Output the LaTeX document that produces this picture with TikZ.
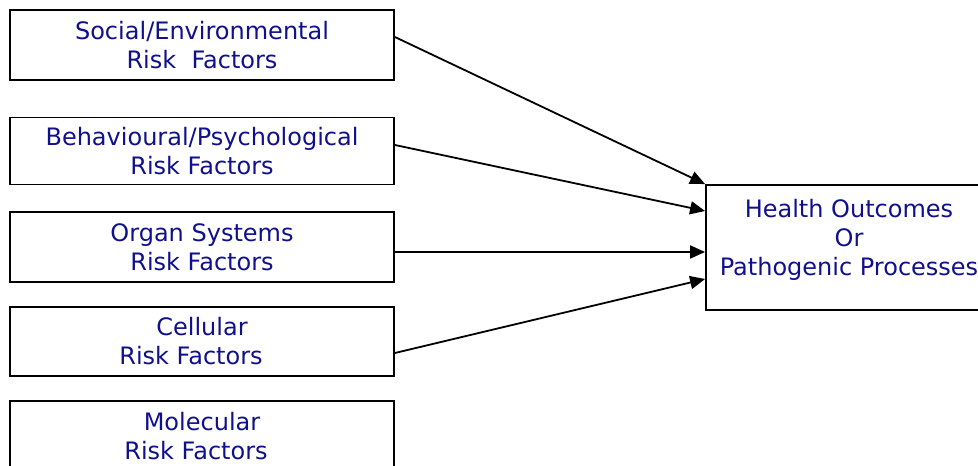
\documentclass[tikz,border=0pt]{standalone}
\usepackage{fontspec}
\setmainfont{DejaVu Sans}
\usetikzlibrary{arrows.meta,calc}
\definecolor{navytext}{RGB}{16,16,140}
\begin{document}
\begin{tikzpicture}[x=1pt,y=1pt,
  riskbox/.style={draw=black, line width=1.8pt, minimum width=384pt, inner sep=0pt, align=center,
    text=navytext, font=\fontsize{24}{29}\selectfont},
  outbox/.style={draw=black, line width=1.8pt, minimum width=286pt, minimum height=125pt, inner sep=0pt},
  boxtext/.style={align=center, text=navytext, inner sep=0pt, font=\fontsize{24}{29}\selectfont},
  conn/.style={line width=1.8pt, -{Triangle[length=15pt,width=13pt]}}]
\useasboundingbox (0,0) rectangle (978,466);
\node[riskbox, minimum height=70pt] (b1) at (202,421) {Social/Environmental\\Risk~\ Factors};
\node[riskbox, minimum height=67pt] (b2) at (202,315) {Behavioural/Psychological\\Risk Factors};
\node[riskbox, minimum height=70pt] (b3) at (202,219) {Organ Systems\\Risk Factors};
\node[riskbox, minimum height=69pt] (b4) at (202,124.5) {Cellular\\Risk Factors\hspace*{22pt}};
\node[riskbox, minimum height=70pt] (b5) at (202,30) {Molecular\\Risk Factors\hspace*{12pt}};
\node[outbox] (ho) at (849,218.5) {};
\node[boxtext] (hotext) at (849,226) {Health Outcomes\\Or\\Pathogenic Processes};
\draw[conn] ($(b1.east)+(0,8)$) -- (ho.north west);
\draw[conn] ($(b2.east)+(0,6)$) -- ($(ho.west)+(0,36.5)$);
\draw[conn] ($(b3.east)+(0,-5)$) -- ($(ho.west)+(0,-4.5)$);
\draw[conn] ($(b4.east)+(0,-11.5)$) -- ($(ho.west)+(0,-31.5)$);
\end{tikzpicture}
\end{document}
